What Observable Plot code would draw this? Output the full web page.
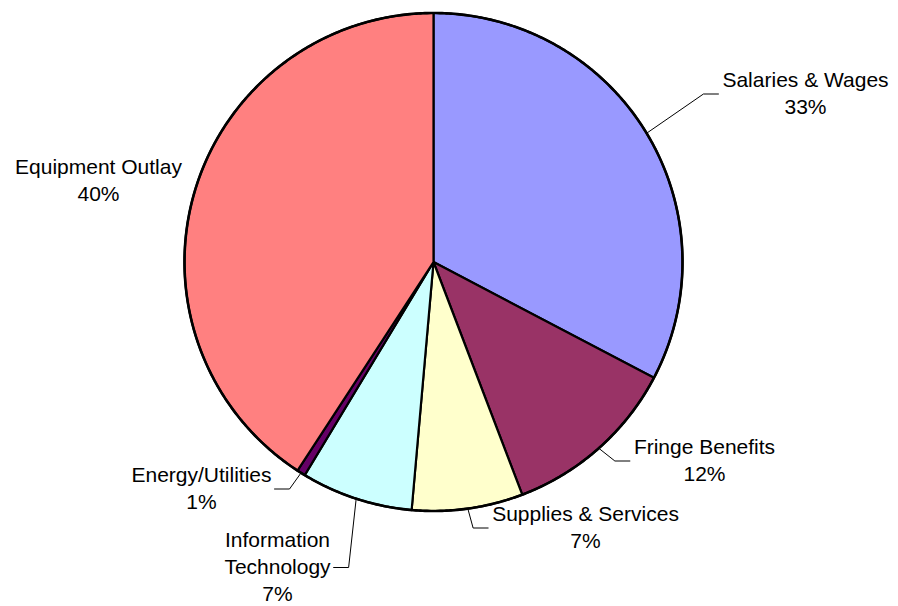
<!DOCTYPE html>
<html><head><meta charset="utf-8">
<script src="https://cdn.jsdelivr.net/npm/d3@7"></script>
<script src="https://cdn.jsdelivr.net/npm/@observablehq/plot@0.6"></script>
<style>body{margin:0;background:#fff} svg{display:block}</style>
</head><body><div id="chart"></div>
<script>
// ---- data ----
const categories = ["Salaries & Wages", "Fringe Benefits", "Supplies & Services", "Information Technology", "Energy/Utilities", "Equipment Outlay"];
const labelNames = ["Salaries & Wages", "Fringe Benefits", "Supplies & Services", "Information\nTechnology", "Energy/Utilities", "Equipment Outlay"];
const values = [32.7, 11.5, 7.2, 7.25, 0.55, 40.8];
const pctLabels = ["33%", "12%", "7%", "7%", "1%", "40%"];
const colors = ["#9999FF", "#993366", "#FFFFCC", "#CCFFFF", "#660066", "#FF8080"];

// ---- layout (pixels relative to pie centre, y downward) ----
const W = 898, H = 606, CX = 433, CY = 261.5, R = 249;
const FONT = 21;
const labelLayout = [
  {dx: 805 - CX, dy: 91.5 - CY, leader: true},
  {dx: 704 - CX, dy: 458.5 - CY, leader: true},
  {dx: 585 - CX, dy: 525.5 - CY, leader: true},
  {dx: 277 - CX, dy: 565 - CY, leader: true},
  {dx: 201 - CX, dy: 486.5 - CY, leader: true},
  {dx: 98 - CX, dy: 178 - CY, leader: false}
];

const total = d3.sum(values);
const ctx = document.createElement("canvas").getContext("2d");
ctx.font = `${FONT}px "Liberation Sans", Arial, sans-serif`;

// slice polygons
const slicePts = [];
let acc = 0;
const mids = [];
values.forEach((v, i) => {
  const a0 = acc / total * 2 * Math.PI;
  acc += v;
  const a1 = acc / total * 2 * Math.PI;
  mids.push((a0 + a1) / 2);
  slicePts.push({k: i, x: 0, y: 0, c: colors[i]});
  const n = Math.max(2, Math.ceil((a1 - a0) / (Math.PI / 360)));
  for (let j = 0; j <= n; j++) {
    const a = a0 + (a1 - a0) * j / n;
    slicePts.push({k: i, x: R * Math.sin(a), y: R * Math.cos(a), c: colors[i]});
  }
  slicePts.push({k: i, x: 0, y: 0, c: colors[i]});
});
const circlePts = d3.range(0, 721).map(j => {
  const a = j / 720 * 2 * Math.PI;
  return {x: R * Math.sin(a), y: R * Math.cos(a)};
});

// labels and leaders
const labels = categories.map((c, i) => ({
  text: labelNames[i] + "\n" + pctLabels[i],
  x: labelLayout[i].dx,
  y: -labelLayout[i].dy
}));
const leaders = [];
categories.forEach((c, i) => {
  const L = labelLayout[i];
  if (!L.leader) return;
  const lines = (labelNames[i] + "\n" + pctLabels[i]).split("\n");
  const hw = d3.max(lines, s => ctx.measureText(s).width) / 2;
  const right = L.dx > 0;
  const endX = right ? L.dx - hw - 4 : L.dx + hw + 3;
  const elbowX = right ? endX - 15 : endX + 15;
  const ly = -(L.dy + 2);
  const a = mids[i];
  leaders.push({k: i, x: R * Math.sin(a), y: R * Math.cos(a)});
  leaders.push({k: i, x: elbowX, y: ly});
  leaders.push({k: i, x: endX, y: ly});
});

const chart = Plot.plot({
  width: W, height: H,
  margin: 0,
  x: {domain: [-CX, W - CX], axis: null},
  y: {domain: [-(H - CY), CY], axis: null},
  color: {type: "identity"},
  style: {background: "white"},
  marks: [
    Plot.line(slicePts, {x: "x", y: "y", z: "k", fill: "c", stroke: "black", strokeWidth: 2.2, curve: "linear", strokeLinejoin: "round"}),
    Plot.line(circlePts, {x: "x", y: "y", stroke: "black", strokeWidth: 2.6, curve: "linear"}),
    Plot.line(leaders, {x: "x", y: "y", z: "k", stroke: "black", strokeWidth: 1, curve: "linear"}),
    Plot.text(labels, {x: "x", y: "y", text: "text", fontSize: FONT, lineAnchor: "middle", lineHeight: 1.29, fill: "black", fontFamily: "'Liberation Sans', Arial, sans-serif"})
  ]
});
document.getElementById("chart").appendChild(chart);
</script>
</body></html>
